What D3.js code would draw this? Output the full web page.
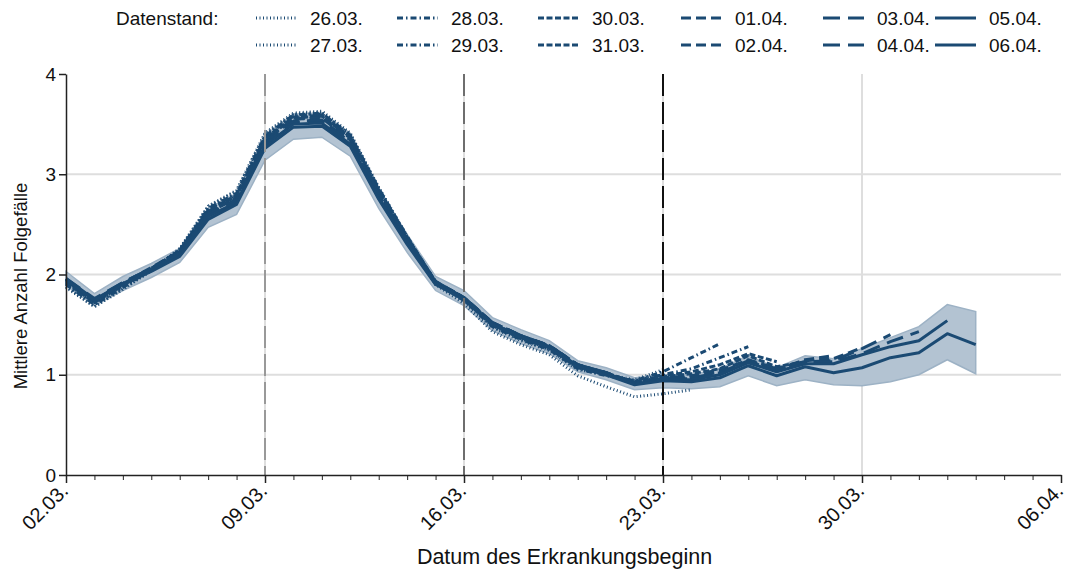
<!DOCTYPE html>
<html>
<head>
<meta charset="utf-8">
<script src="https://cdn.jsdelivr.net/npm/d3@7/dist/d3.min.js"></script>
<style>
body { margin: 0; background: #fff; }
svg { font-family: "Liberation Sans", Arial, sans-serif; }
</style>
</head>
<body>
<div id="chart"></div>
<script>
// days of onset, 02.03. to 03.04.
var days = ["2020-03-02","2020-03-03","2020-03-04","2020-03-05","2020-03-06","2020-03-07","2020-03-08",
  "2020-03-09","2020-03-10","2020-03-11","2020-03-12","2020-03-13","2020-03-14","2020-03-15",
  "2020-03-16","2020-03-17","2020-03-18","2020-03-19","2020-03-20","2020-03-21","2020-03-22",
  "2020-03-23","2020-03-24","2020-03-25","2020-03-26","2020-03-27","2020-03-28","2020-03-29",
  "2020-03-30","2020-03-31","2020-04-01","2020-04-02","2020-04-03"];

var xTicks = ["2020-03-02","2020-03-09","2020-03-16","2020-03-23","2020-03-30","2020-04-06"];
var yTicks = [0, 1, 2, 3, 4];
var markDays = ["2020-03-09","2020-03-16","2020-03-23"];

// one line per Datenstand
var v2603 = [1.87,1.68,1.85,2.04,2.26,2.68,2.84,3.41,3.61,3.63,3.41,2.87,2.38,1.91,1.74,1.47,1.34,1.24,1.05,1.00,0.95,1.05];
var v2703 = [1.88,1.68,1.86,2.04,2.25,2.68,2.83,3.40,3.60,3.62,3.40,2.86,2.36,1.90,1.71,1.43,1.30,1.20,0.99,0.88,0.78,0.81,0.85];
var v2803 = [1.90,1.70,1.87,2.05,2.24,2.66,2.81,3.38,3.59,3.61,3.39,2.86,2.38,1.92,1.74,1.48,1.35,1.25,1.06,0.99,0.94,1.03,1.17,1.31];
var v2903 = [1.91,1.71,1.88,2.05,2.24,2.65,2.80,3.37,3.58,3.60,3.38,2.85,2.37,1.92,1.75,1.49,1.36,1.26,1.07,1.00,0.94,1.00,1.06,1.17,1.28];
var v3003 = [1.92,1.72,1.89,2.06,2.24,2.64,2.79,3.36,3.57,3.59,3.37,2.84,2.37,1.93,1.76,1.50,1.37,1.27,1.08,1.00,0.93,0.99,1.03,1.10,1.21,1.13];
var v3103 = [1.93,1.73,1.90,2.06,2.23,2.63,2.78,3.35,3.56,3.58,3.36,2.83,2.36,1.93,1.77,1.51,1.38,1.28,1.09,1.01,0.92,0.98,1.01,1.06,1.19,1.08,1.13];
var v0104 = [1.94,1.74,1.91,2.07,2.23,2.63,2.77,3.34,3.55,3.57,3.35,2.82,2.35,1.93,1.77,1.52,1.39,1.29,1.10,1.02,0.92,0.97,0.99,1.05,1.14,1.05,1.15,1.19];
var v0204 = [1.95,1.74,1.91,2.06,2.22,2.62,2.76,3.33,3.55,3.56,3.34,2.81,2.35,1.93,1.77,1.52,1.39,1.29,1.10,1.02,0.92,0.96,0.97,1.03,1.15,1.06,1.14,1.16,1.27];
var v0304 = [1.95,1.75,1.92,2.06,2.22,2.61,2.75,3.32,3.53,3.54,3.33,2.80,2.34,1.92,1.77,1.52,1.39,1.29,1.10,1.02,0.92,0.96,0.97,1.02,1.14,1.06,1.13,1.14,1.26,1.40];
var v0404 = [1.96,1.76,1.92,2.06,2.21,2.60,2.74,3.31,3.52,3.53,3.32,2.79,2.33,1.92,1.77,1.52,1.39,1.29,1.10,1.02,0.92,0.96,0.96,1.01,1.13,1.05,1.12,1.13,1.21,1.33,1.43];
var v0504 = [1.96,1.75,1.91,2.05,2.20,2.58,2.72,3.29,3.50,3.51,3.30,2.77,2.32,1.91,1.76,1.51,1.38,1.28,1.09,1.01,0.91,0.95,0.95,1.00,1.12,1.03,1.11,1.11,1.20,1.28,1.34,1.54];
var v0604 = [1.95,1.74,1.90,2.03,2.18,2.55,2.70,3.26,3.47,3.48,3.28,2.75,2.30,1.90,1.75,1.50,1.37,1.27,1.08,1.00,0.90,0.94,0.93,0.97,1.09,0.99,1.08,1.02,1.07,1.17,1.22,1.41,1.30];

// interval of the newest Datenstand
var ciLow  = [1.89,1.69,1.84,1.97,2.12,2.47,2.60,3.14,3.35,3.37,3.18,2.66,2.22,1.84,1.69,1.44,1.31,1.21,1.03,0.95,0.85,0.87,0.86,0.88,0.99,0.89,0.95,0.90,0.89,0.93,1.00,1.15,1.01];
var ciHigh = [2.03,1.81,1.98,2.11,2.26,2.66,2.81,3.39,3.60,3.61,3.41,2.86,2.40,1.98,1.84,1.57,1.45,1.34,1.14,1.07,0.97,1.00,1.00,1.06,1.19,1.07,1.19,1.16,1.26,1.37,1.48,1.70,1.63];

var seriesNames = ["26.03.","27.03.","28.03.","29.03.","30.03.","31.03.","01.04.","02.04.","03.04.","04.04.","05.04.","06.04."];
var seriesValues = [v2603,v2703,v2803,v2903,v3003,v3103,v0104,v0204,v0304,v0404,v0504,v0604];
var dashes = ["1,2.5","1,2.5","6,3,1.5,3","6,3,1.5,3","6,2.5","6,2.5","10,5","10,5","17,8","17,8",null,null];

var W = 1068, H = 571;
var margin = {top: 74, right: 7, bottom: 96, left: 66};
var width = W - margin.left - margin.right,
    height = H - margin.top - margin.bottom;
var col = "#1b4a73";

var parse = d3.timeParse("%Y-%m-%d");
var fmt = d3.timeFormat("%d.%m.");

var svg = d3.select("#chart").append("svg")
    .attr("width", W).attr("height", H);
var g = svg.append("g")
    .attr("transform", "translate(" + margin.left + "," + margin.top + ")");

var x = d3.scaleTime()
    .domain([parse("2020-03-02"), parse("2020-04-06")])
    .range([0, width]);
var y = d3.scaleLinear().domain([0, 4]).range([height, 0]);

// grid
g.selectAll(".hgrid").data([1, 2, 3]).enter().append("line")
    .attr("x1", 0).attr("x2", width)
    .attr("y1", function(d) { return y(d); }).attr("y2", function(d) { return y(d); })
    .attr("stroke", "#dedede").attr("stroke-width", 2);
g.selectAll(".vgrid").data(xTicks.slice(1, 5)).enter().append("line")
    .attr("x1", function(d) { return x(parse(d)); }).attr("x2", function(d) { return x(parse(d)); })
    .attr("y1", 0).attr("y2", height)
    .attr("stroke", "#dedede").attr("stroke-width", 2);

// band
var area = d3.area()
    .x(function(d, i) { return x(parse(days[i])); })
    .y0(function(d, i) { return y(ciLow[i]); })
    .y1(function(d, i) { return y(ciHigh[i]); });
g.append("path").datum(ciLow)
    .attr("d", area)
    .attr("fill", "#b3c3d2")
    .attr("stroke", "#9db2c5").attr("stroke-width", 1.5);

// lines
var line = d3.line()
    .x(function(d, i) { return x(parse(days[i])); })
    .y(function(d) { return y(d); });
seriesValues.forEach(function(vals, k) {
  g.append("path").datum(vals)
      .attr("d", line)
      .attr("fill", "none")
      .attr("stroke", col)
      .attr("stroke-width", 3)
      .attr("stroke-linejoin", "round")
      .attr("stroke-dasharray", dashes[k]);
});

// markers for weeks
var markCol = ["#999999", "#6e6e6e", "#111111"];
g.selectAll(".mark").data(markDays).enter().append("line")
    .attr("x1", function(d) { return x(parse(d)); }).attr("x2", function(d) { return x(parse(d)); })
    .attr("y1", 0).attr("y2", height)
    .attr("stroke", function(d, i) { return markCol[i]; })
    .attr("stroke-width", 2)
    .attr("stroke-dasharray", "22,6");

// axes
var xAxis = g.append("g")
    .attr("transform", "translate(0," + height + ")")
    .call(d3.axisBottom(x).tickValues(xTicks.map(parse)).tickFormat(fmt).tickSize(8).tickSizeOuter(0));
xAxis.selectAll("text")
    .attr("font-size", 20)
    .attr("fill", "#111")
    .attr("text-anchor", "end")
    .attr("x", 0).attr("y", 0)
    .attr("dy", 0)
    .attr("transform", "translate(3,17) rotate(-45)");
xAxis.select(".domain").attr("stroke", "#222").attr("stroke-width", 1.5);
xAxis.selectAll(".tick line").attr("stroke", "#222").attr("stroke-width", 1.5);

g.append("g")
    .attr("transform", "translate(0," + height + ")")
    .call(d3.axisBottom(x).ticks(d3.timeDay.every(1)).tickFormat("").tickSize(5).tickSizeOuter(0))
    .call(function(s) { s.select(".domain").remove(); })
    .selectAll(".tick line").attr("stroke", "#222").attr("stroke-width", 1);

var yAxis = g.append("g")
    .call(d3.axisLeft(y).tickValues(yTicks).tickFormat(d3.format("d")).tickSize(7).tickSizeOuter(0));
yAxis.selectAll("text").attr("font-size", 19).attr("fill", "#111");
yAxis.select(".domain").attr("stroke", "#222").attr("stroke-width", 1.5);
yAxis.selectAll(".tick line").attr("stroke", "#222").attr("stroke-width", 1.5);

// axis titles
svg.append("text")
    .attr("x", margin.left + width / 2 + 1).attr("y", 564)
    .attr("text-anchor", "middle")
    .attr("font-size", 21.5).attr("fill", "#111")
    .text("Datum des Erkrankungsbeginn");
svg.append("text")
    .attr("transform", "translate(27,286) rotate(-90)")
    .attr("text-anchor", "middle")
    .attr("font-size", 18.5).attr("fill", "#111")
    .text("Mittlere Anzahl Folgefälle");

// legend
var leg = svg.append("g");
leg.append("text").attr("x", 116).attr("y", 25)
    .attr("font-size", 19).attr("fill", "#111").text("Datenstand:");
var colX = [256, 397, 538, 681, 823, 935];
seriesNames.forEach(function(name, k) {
  var cx = colX[Math.floor(k / 2)], cy = (k % 2) ? 45 : 18;
  leg.append("line")
      .attr("x1", cx).attr("x2", cx + 41)
      .attr("y1", cy).attr("y2", cy)
      .attr("stroke", col).attr("stroke-width", 3)
      .attr("stroke-dasharray", dashes[k]);
  leg.append("text")
      .attr("x", cx + 54).attr("y", cy + 7)
      .attr("font-size", 19).attr("fill", "#111")
      .text(name);
});
</script>
</body>
</html>
